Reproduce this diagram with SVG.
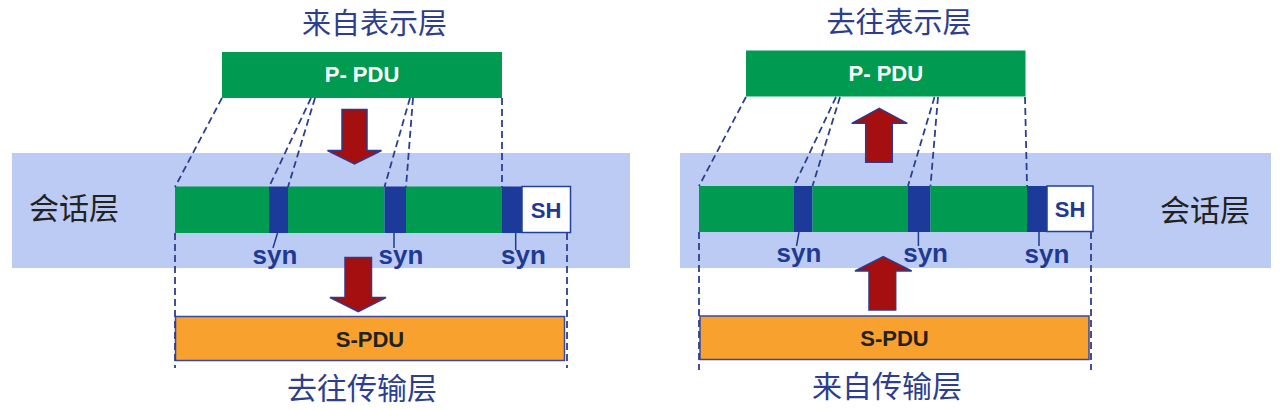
<svg xmlns="http://www.w3.org/2000/svg" width="1281" height="410" viewBox="0 0 1281 410">
<style>
.cjk{font-family:"Noto Sans CJK SC","Liberation Sans",sans-serif;font-size:30px;text-anchor:middle}
.ttl{font-size:29px}
.title{fill:#2d3e8e}
.layer{fill:#222}
.lbl{font-family:"Liberation Sans",Arial,sans-serif;font-weight:bold;text-anchor:middle}
.band{fill:#bccbf3}
.grn{fill:#009a50}
.blu{fill:#1c3a9a}
.sh{fill:#fff;stroke:#2040a0;stroke-width:1.5}
.spdu{fill:#f9a12e;stroke:#3a4a9a;stroke-width:1.5}
.dash{stroke:#2b3f8f;stroke-width:1.8;stroke-dasharray:7 4;fill:none}
.ptr{stroke:#1f3a93;stroke-width:1.5;fill:none}
.arr{fill:#a50f0f;stroke:#2f3a8a;stroke-width:1.5;stroke-linejoin:miter}
.syn{fill:#1f3a93;font-size:26px}
</style>
<rect width="1281" height="410" fill="#fff"/>
<g id="band-left"><rect class="band" x="12" y="153" width="618" height="115"/></g>
<g id="band-right"><rect class="band" x="680" y="153" width="591" height="115"/></g>

<g id="title-left"><text class="cjk ttl title" x="374.5" y="34">来自表示层</text></g>
<g id="title-right"><text class="cjk ttl title" x="899" y="33">去往表示层</text></g>

<g id="ppdu-left"><rect class="grn" x="222" y="52" width="280" height="46"/><text class="lbl" x="362" y="82" font-size="22" fill="#fff">P- PDU</text></g>
<g id="ppdu-right"><rect class="grn" x="746" y="50.5" width="279.5" height="46"/><text class="lbl" x="885.8" y="80.5" font-size="22" fill="#fff">P- PDU</text></g>

<g id="layer-left"><text class="cjk layer" x="74" y="219">会话层</text></g>
<g id="layer-right"><text class="cjk layer" x="1205" y="221">会话层</text></g>

<g id="bar-left">
<rect class="grn" x="175" y="186.5" width="94" height="46.5"/>
<rect class="blu" x="269" y="186.5" width="19" height="46.5"/>
<rect class="grn" x="288" y="186.5" width="96.5" height="46.5"/>
<rect class="blu" x="384.5" y="186.5" width="21.5" height="46.5"/>
<rect class="grn" x="406" y="186.5" width="96" height="46.5"/>
<rect class="blu" x="502" y="186.5" width="20" height="46.5"/>
<rect class="sh" x="522" y="186.5" width="48.5" height="46"/>
<text class="lbl" x="546" y="218" font-size="22" fill="#1f3a93">SH</text>
</g>
<g id="bar-right">
<rect class="grn" x="699" y="186" width="95" height="46"/>
<rect class="blu" x="794" y="186" width="18.5" height="46"/>
<rect class="grn" x="812.5" y="186" width="95.5" height="46"/>
<rect class="blu" x="908" y="186" width="22.5" height="46"/>
<rect class="grn" x="930.5" y="186" width="96.5" height="46"/>
<rect class="blu" x="1027" y="186" width="20" height="46"/>
<rect class="sh" x="1047" y="186" width="46" height="45.5"/>
<text class="lbl" x="1070" y="217" font-size="22" fill="#1f3a93">SH</text>
</g>

<g id="syn-left">
<text class="lbl syn" x="275" y="264">syn</text>
<text class="lbl syn" x="401" y="264">syn</text>
<text class="lbl syn" x="523.5" y="264">syn</text>
</g>
<g id="syn-right">
<text class="lbl syn" x="799" y="262">syn</text>
<text class="lbl syn" x="925.6" y="262">syn</text>
<text class="lbl syn" x="1047" y="263">syn</text>
</g>

<g id="spdu-left"><rect class="spdu" x="175.5" y="316.5" width="389" height="44"/><text class="lbl" x="370" y="347" font-size="22" fill="#222">S-PDU</text></g>
<g id="spdu-right"><rect class="spdu" x="700" y="316" width="389" height="43.5"/><text class="lbl" x="894.5" y="346" font-size="22" fill="#222">S-PDU</text></g>

<g id="dest-left"><text class="cjk title" x="362" y="399">去往传输层</text></g>
<g id="dest-right"><text class="cjk title" x="887" y="397">来自传输层</text></g>

<g id="connectors">
<path class="dash" d="M222,98 L175,187 M311,98 L269,187 M315,98 L288,187 M410,98 L384.5,187 M413,98 L406,187 M502,98 L502,187"/>
<path class="dash" d="M175,233 L175,368 M567,233 L567,368"/>
<path class="dash" d="M746,97 L699,186 M836,97 L794,186 M840,97 L812.5,186 M934.5,97 L908,186 M938,97 L930.5,186 M1025,97 L1027,186"/>
<path class="dash" d="M699,232 L699,370 M1091,232 L1091,370"/>
<path class="ptr" d="M277.5,233 L273,248 M394,233 L394,248 M515.7,233 L515.7,250"/>
<path class="ptr" d="M799,232 L796.5,246 M918.4,232 L918.4,246 M1039,232 L1039,246"/>
<path class="arr" d="M342,109.5 H367 V150.5 H381.5 L354.5,164 L327.5,150.5 H342 Z"/>
<path class="arr" d="M345,257.5 H371.5 V297.5 H386 L358.25,311.7 L330,297.5 H345 Z"/>
<path class="arr" d="M879.3,108.3 L907.3,123.3 H892.3 V162.3 H865.7 V123.3 H851.7 Z"/>
<path class="arr" d="M883.3,256.7 L911.7,271 H895.7 V310 H869 V271 H855 Z"/>
</g>
</svg>
